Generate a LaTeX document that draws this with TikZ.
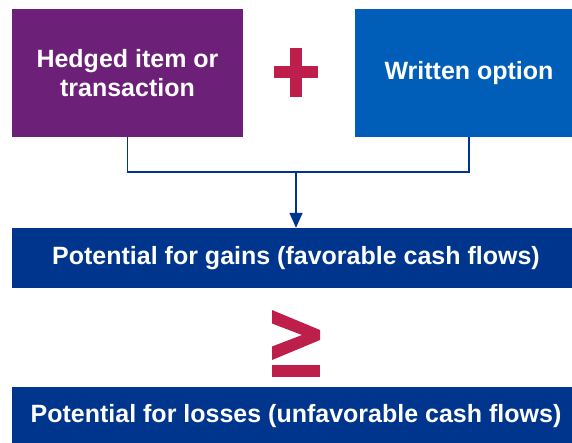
\documentclass[tikz,border=0pt]{standalone}
\usepackage{fontspec}
\setmainfont{Liberation Sans}
\usetikzlibrary{arrows.meta,positioning}
\definecolor{hedgepurple}{HTML}{6C2077}
\definecolor{optionblue}{HTML}{005EB8}
\definecolor{barblue}{HTML}{00358E}
\definecolor{signred}{HTML}{BE1E4A}

\begin{document}
\begin{tikzpicture}[x=1pt, y=-1pt,
  box/.style={inner sep=0pt, text=white, align=center, font=\fontsize{25}{29}\selectfont\bfseries},
  conn/.style={draw=barblue, line width=1.5pt}]
\useasboundingbox (0,0) rectangle (572,442);
\node[box, fill=hedgepurple, minimum width=231pt, minimum height=128pt] (hedged) at (127.5,73) {Hedged item or\\transaction};
\node[box, fill=optionblue, minimum width=228pt, minimum height=128pt] (option) at (469,73) {Written option};
\node[box, fill=barblue, minimum width=568pt, minimum height=60pt] (gains) at (296,258) {Potential for gains (favorable cash flows)};
\node[box, fill=barblue, minimum width=568pt, minimum height=59pt] (losses) at (296,416.5) {Potential for losses (unfavorable cash flows)};
\coordinate (merge) at (296,172);
% plus sign
\fill[signred] (274,66) rectangle (318,78);
\fill[signred] (290,48) rectangle (302,97);
% greater-or-equal sign
\fill[signred] (272,310) -- (320,330) -- (320,340) -- (272,360) -- (272,346.5) -- (302,335) -- (272,323.5) -- cycle;
\fill[signred] (272,365) rectangle (320,376.5);
\draw[conn] (hedged.south) |- (merge) -| (option.south);
\draw[conn, -{Triangle[length=15pt, width=13pt]}] (merge) -- (gains.north);
\end{tikzpicture}
\end{document}
